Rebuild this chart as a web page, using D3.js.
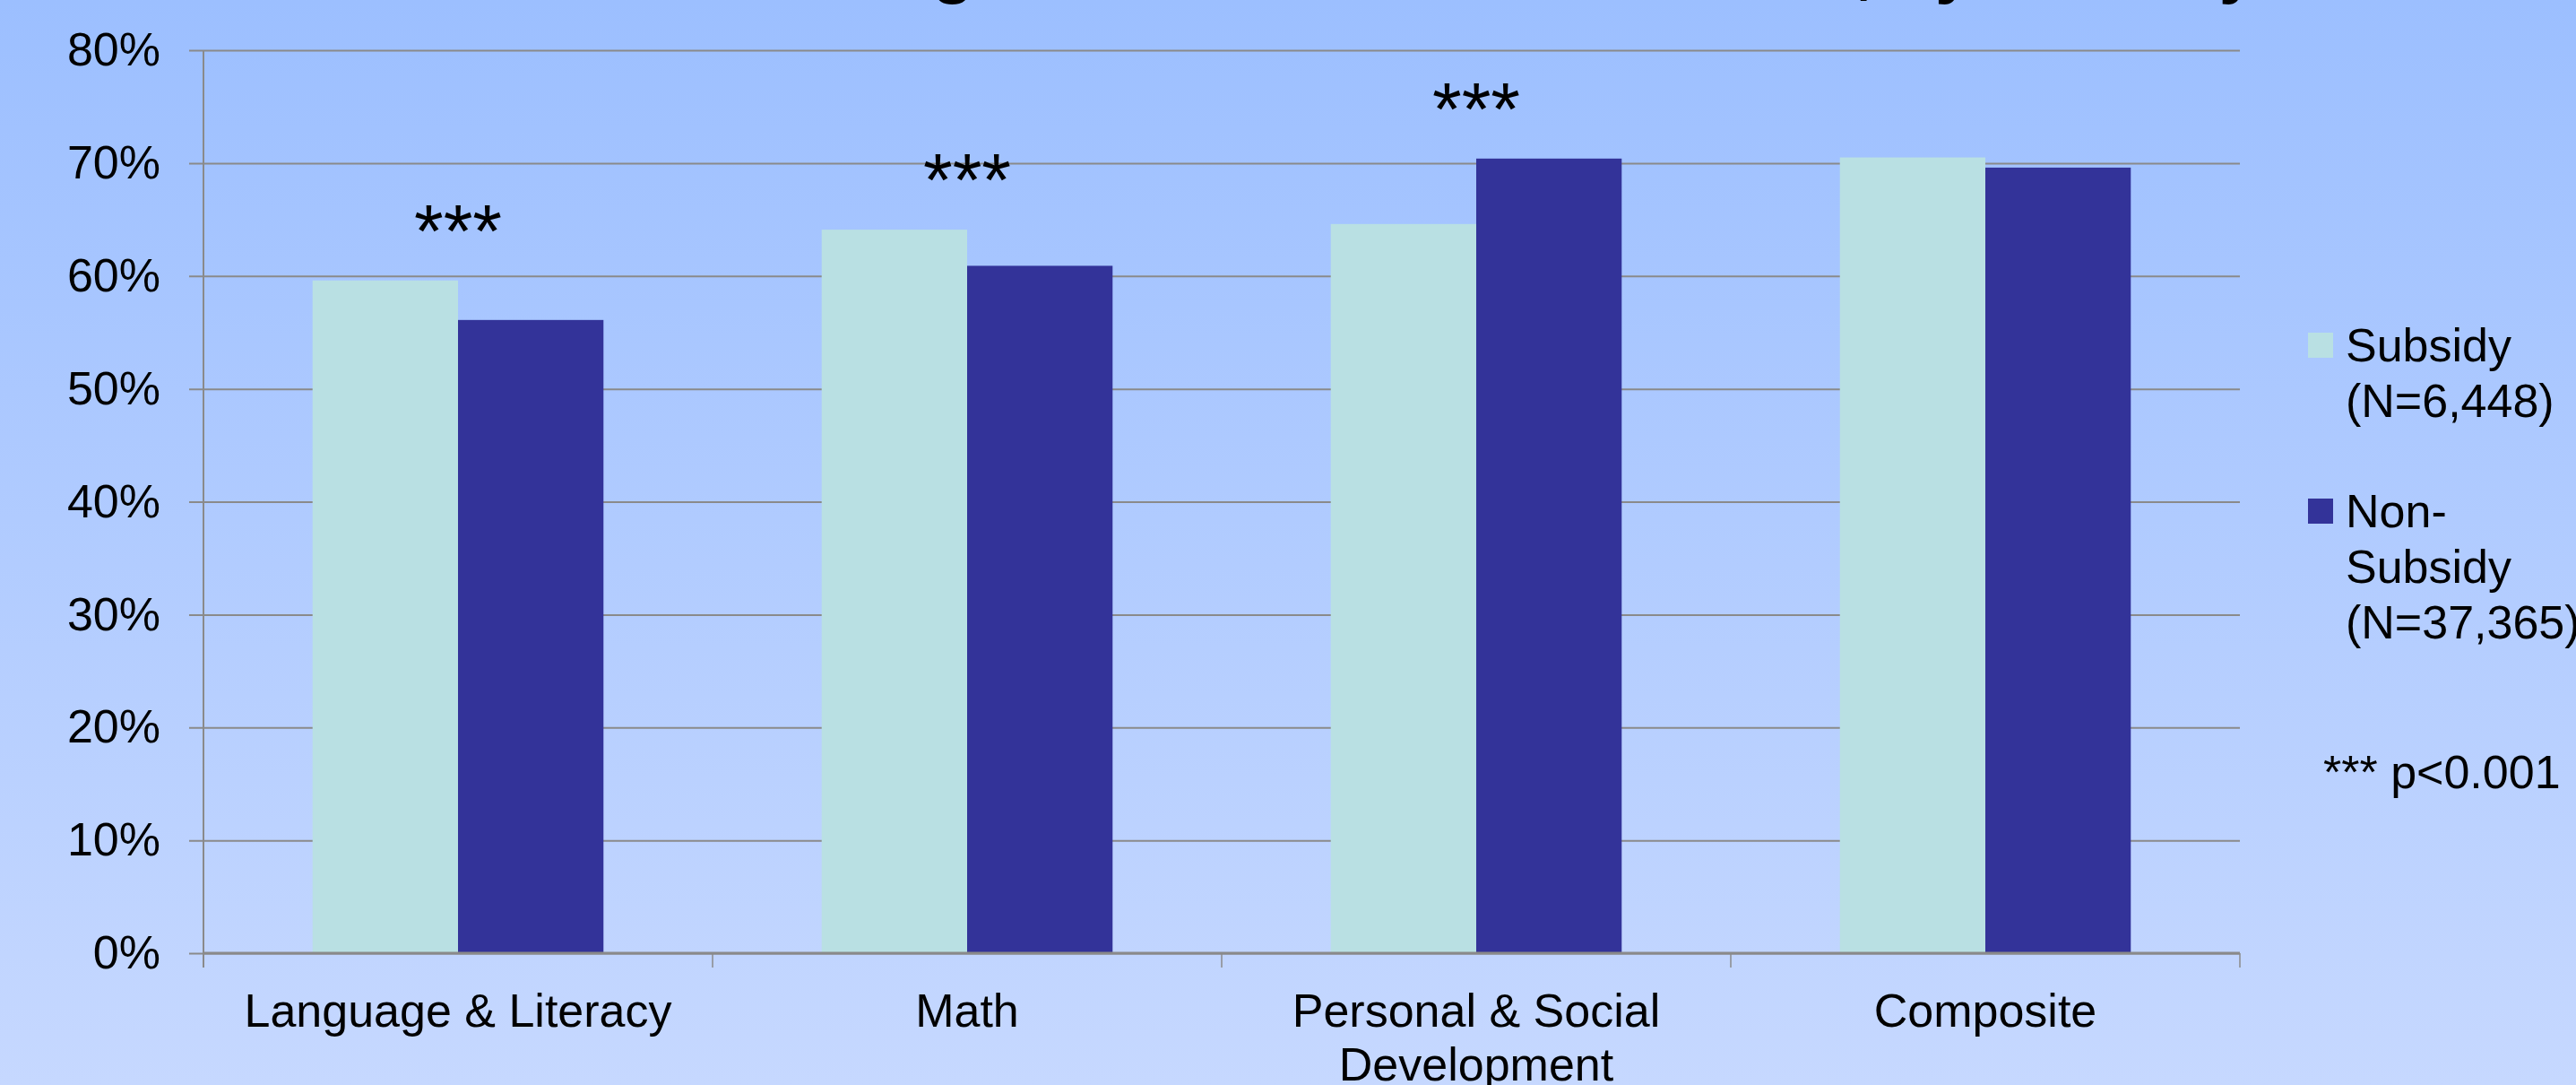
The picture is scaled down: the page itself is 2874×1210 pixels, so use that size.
<!DOCTYPE html>
<html>
<head>
<meta charset="utf-8">
<script src="https://cdn.jsdelivr.net/npm/d3@7"></script>
<style>
  html, body { margin: 0; padding: 0; overflow: hidden; }
  svg { display: block; font-family: "Liberation Sans", Arial, sans-serif; }
  .axis text { fill: #000; }
</style>
</head>
<body>
<svg id="chart"></svg>
<script>
const TITLE = "Percent Meeting Standards in Each Domain, by Subsidy";
const CATEGORIES = ["Language & Literacy", "Math", "Personal & Social Development", "Composite"];
const SERIES = ["Subsidy", "Non-Subsidy"];
const SUBSIDY = [0.596, 0.641, 0.646, 0.705];
const NON_SUBSIDY = [0.561, 0.609, 0.704, 0.696];
const SIGNIFICANCE = ["***", "***", "***", ""];
const Y_TICKS = [0, 0.1, 0.2, 0.3, 0.4, 0.5, 0.6, 0.7, 0.8];
const LEGEND_LINES = [
  ["Subsidy", "(N=6,448)"],
  ["Non-", "Subsidy", "(N=37,365)"],
];
const NOTE = "*** p<0.001";
const COLORS = ["#b9e0e3", "#333399"];

const config = {
  containerWidth: 2874,
  containerHeight: 1210,
  margin: { top: 56, right: 375, bottom: 147, left: 227 },
  fontSize: 52,
};

const width = config.containerWidth - config.margin.left - config.margin.right;
const height = config.containerHeight - config.margin.top - config.margin.bottom;

const data = CATEGORIES.map((c, i) => ({
  key: c,
  values: [SUBSIDY[i], NON_SUBSIDY[i]],
  sig: SIGNIFICANCE[i],
}));

const svg = d3
  .select("#chart")
  .attr("width", config.containerWidth)
  .attr("height", config.containerHeight);

// Slide background gradient
const grad = svg
  .append("defs")
  .append("linearGradient")
  .attr("id", "bg")
  .attr("x1", 0).attr("y1", 0).attr("x2", 0).attr("y2", 1);
grad.append("stop").attr("offset", "0%").attr("stop-color", "#9cbfff");
grad.append("stop").attr("offset", "100%").attr("stop-color", "#c6d8ff");

svg
  .append("rect")
  .attr("width", config.containerWidth)
  .attr("height", config.containerHeight)
  .attr("fill", "url(#bg)");

// Title sits mostly above the visible area, only descenders show
svg
  .append("text")
  .attr("x", 2518)
  .attr("y", -11)
  .attr("text-anchor", "end")
  .style("font-size", "76px")
  .style("font-weight", "bold")
  .text(TITLE);

const chart = svg
  .append("g")
  .attr("transform", `translate(${config.margin.left}, ${config.margin.top})`);

// Scales
const xScale = d3.scaleBand().domain(CATEGORIES).range([0, width]);
const xSub = d3
  .scaleBand()
  .domain(SERIES)
  .range([0, xScale.bandwidth()])
  .paddingInner(0)
  .paddingOuter(0.75);
const yScale = d3.scaleLinear().domain([0, 0.8]).range([height, 0]);

// Gridlines (they also poke out left as tick marks)
const grid = chart
  .append("g")
  .attr("class", "grid")
  .attr("transform", "translate(-16, 0)")
  .call(
    d3.axisLeft(yScale).tickValues(Y_TICKS).tickSize(-(width + 16)).tickFormat("")
  );
grid.select(".domain").remove();
grid.selectAll("line").attr("stroke", "#8a8a8a").attr("stroke-width", 2);

// Y axis labels
const yAxisG = chart
  .append("g")
  .attr("class", "axis y-axis")
  .call(
    d3.axisLeft(yScale)
      .tickValues(Y_TICKS)
      .tickSize(0)
      .tickPadding(48)
      .tickFormat(d3.format(".0%"))
  );
yAxisG.select(".domain").remove();
yAxisG.selectAll("text").style("font-size", config.fontSize + "px");

// Bars
const groups = chart
  .selectAll(".group")
  .data(data)
  .join("g")
  .attr("class", "group")
  .attr("transform", (d) => `translate(${xScale(d.key)}, 0)`);

groups
  .selectAll("rect")
  .data((d) => d.values.map((v, i) => ({ series: SERIES[i], value: v, i })))
  .join("rect")
  .attr("x", (d) => xSub(d.series))
  .attr("width", xSub.bandwidth())
  .attr("y", (d) => yScale(d.value))
  .attr("height", (d) => height - yScale(d.value))
  .attr("fill", (d) => COLORS[d.i]);

// Significance stars above the taller bar
groups
  .append("text")
  .attr("x", xScale.bandwidth() / 2)
  .attr("y", (d) => yScale(d3.max(d.values)) - 26)
  .attr("text-anchor", "middle")
  .style("font-size", "84px")
  .text((d) => d.sig);

// Y axis line
chart
  .append("line")
  .attr("x1", 0).attr("x2", 0)
  .attr("y1", 0).attr("y2", height + 16)
  .attr("stroke", "#8a8a8a")
  .attr("stroke-width", 2);

// X axis: line, ticks between categories, wrapped labels
const xAxisG = chart
  .append("g")
  .attr("class", "axis x-axis")
  .attr("transform", `translate(0, ${height})`);

xAxisG
  .append("line")
  .attr("x1", 0).attr("x2", width)
  .attr("stroke", "#8a8a8a")
  .attr("stroke-width", 3);

xAxisG
  .selectAll(".tick-sep")
  .data(CATEGORIES.concat(null))
  .join("line")
  .attr("class", "tick-sep")
  .attr("x1", (d) => (d === null ? width : xScale(d)))
  .attr("x2", (d) => (d === null ? width : xScale(d)))
  .attr("y1", 0)
  .attr("y2", 16)
  .attr("stroke", "#8a8a8a")
  .attr("stroke-width", 1.5);

xAxisG
  .selectAll(".cat-label")
  .data(CATEGORIES)
  .join("text")
  .attr("class", "cat-label")
  .attr("x", (d) => xScale(d) + xScale.bandwidth() / 2)
  .attr("y", 82)
  .attr("text-anchor", "middle")
  .style("font-size", config.fontSize + "px")
  .text((d) => d)
  .call(wrap, xScale.bandwidth(), 60);

// Legend
const legend = svg.append("g").attr("class", "legend");
const legendTop = [403, 588];
LEGEND_LINES.forEach((lines, i) => {
  const g = legend.append("g").attr("transform", `translate(2575, ${legendTop[i]})`);
  g.append("rect")
    .attr("x", 0)
    .attr("y", -32)
    .attr("width", 28)
    .attr("height", 28)
    .attr("fill", COLORS[i]);
  g.append("text")
    .style("font-size", config.fontSize + "px")
    .selectAll("tspan")
    .data(lines)
    .join("tspan")
    .attr("x", 42)
    .attr("y", (d, j) => j * 62)
    .text((d) => d);
});

legend
  .append("text")
  .attr("x", 2592)
  .attr("y", 879)
  .style("font-size", config.fontSize + "px")
  .text(NOTE);

function wrap(texts, maxWidth, lineHeight) {
  texts.each(function () {
    const text = d3.select(this);
    const words = text.text().split(/\s+/);
    const x = text.attr("x");
    const y = +text.attr("y");
    text.text(null);
    let line = [];
    let lineNo = 0;
    let tspan = text.append("tspan").attr("x", x).attr("y", y);
    for (const word of words) {
      line.push(word);
      tspan.text(line.join(" "));
      if (tspan.node().getComputedTextLength() > maxWidth && line.length > 1) {
        line.pop();
        tspan.text(line.join(" "));
        line = [word];
        lineNo++;
        tspan = text
          .append("tspan")
          .attr("x", x)
          .attr("y", y + lineNo * lineHeight)
          .text(word);
      }
    }
  });
}
</script>
</body>
</html>
